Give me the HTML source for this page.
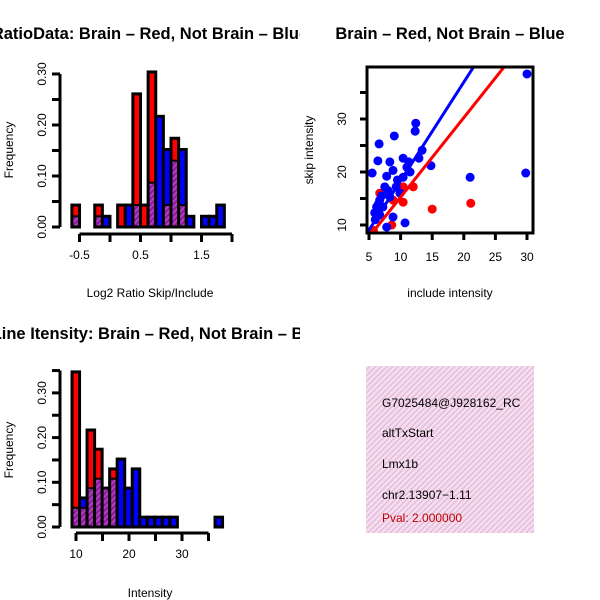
<!DOCTYPE html>
<html><head><meta charset="utf-8"><style>
html,body{margin:0;padding:0;background:#fff;}
svg{display:block;font-family:"Liberation Sans",sans-serif;}
</style></head><body>
<svg id="c" width="600" height="600" viewBox="0 0 600 600" xmlns="http://www.w3.org/2000/svg">
<defs>
<pattern id="purp" patternUnits="userSpaceOnUse" width="4" height="4" patternTransform="rotate(45)">
<rect width="4" height="4" fill="#8a1a9a"/><rect width="2" height="4" fill="#b040c0"/>
</pattern>
<pattern id="pink" patternUnits="userSpaceOnUse" width="4" height="4" patternTransform="rotate(45)">
<rect width="4" height="4" fill="#f8dcf2"/><rect width="1.5" height="4" fill="#e0c0d8"/>
</pattern>
<clipPath id="clipBox"><rect x="366" y="366" width="168" height="167"/></clipPath>
<clipPath id="clipScatter"><rect x="367" y="67" width="166" height="166"/></clipPath>
<clipPath id="clipLeft"><rect x="0" y="0" width="300" height="600"/></clipPath>
</defs>
<g id="p1"></g>
<g id="p2"></g>
<g id="p3"></g>
<g id="titlesLeft" clip-path="url(#clipLeft)"></g>
<g id="legend">
<rect x="366" y="366" width="168" height="167" fill="url(#pink)"/>
<g clip-path="url(#clipBox)" font-size="12">
<text x="382" y="407">G7025484@J928162_RC</text>
<text x="382" y="437">altTxStart</text>
<text x="382" y="468">Lmx1b</text>
<text x="382" y="499">chr2.13907−1.11</text>
<text x="382" y="522" fill="#c00000">Pval: 2.000000</text>
</g>
</g>
</svg>
<script>
// ---- Data ----
const ratioBinStart = -0.625;
const ratioBinWidth = 0.125;
const ratioRed  = [0.043,0,0,0.043,0,0,0.043,0,0.261,0.043,0.304,0,0.043,0.174,0.043,0,0,0,0,0];
const ratioBlue = [0.021,0,0,0.021,0.021,0,0,0.043,0.043,0,0.087,0.217,0.152,0.13,0.152,0.021,0,0.021,0.021,0.043];
const ratioXTicks = [-0.5,0,0.5,1,1.5,2];
const ratioXLabels = ["-0.5","","0.5","","1.5",""];
const ratioYTicks = [0,0.05,0.1,0.15,0.2,0.25,0.3];
const ratioYLabels = ["0.00","","0.10","","0.20","","0.30"];
const intBinStart = 9.25;
const intBinWidth = 1.42;
const intRed  = [0.347,0.043,0.217,0.174,0.087,0.13,0,0,0,0,0,0,0,0,0,0,0,0,0,0];
const intBlue = [0.043,0.065,0.087,0.108,0.087,0.108,0.152,0.087,0.13,0.022,0.022,0.022,0.022,0.022,0,0,0,0,0,0.022];
const intXTicks = [10,15,20,25,30,35];
const intXLabels = ["10","","20","","30",""];
const intYTicks = [0,0.05,0.1,0.15,0.2,0.25,0.3,0.35];
const intYLabels = ["0.00","","0.10","","0.20","","0.30",""];
const blueX = [30,29.8,21,12.4,12.3,9,6.6,6.4,5.5,8.3,10.4,11.3,12.9,13.4,14.8,11,8.8,7.8,10.4,7.5,9.3,6.7,6.2,5.9,7.2,8.3,9.9,10.7,7.8,6.7,8.8,6,7,9.5,11.5,8,6.5];
const blueY = [38.5,19.8,19,29.2,27.7,26.8,25.3,22.1,19.8,21.9,22.6,21.9,22.6,24.1,21.2,20.9,20.3,19.2,19,17.2,17.2,14.7,13.4,12.3,13.4,15.3,16,10.4,9.6,11.9,11.5,11,15.5,18.5,20,16.5,14];
const redX = [21.1,15,12,10.4,10.4,6.7,8.6,5.7,8.8];
const redY = [14.1,13,17.2,14.3,17.2,16,10,9,14.7];
const blueFit = {a:-0.25, b:1.86};
const redFit  = {a:0.25,  b:1.5};
const scatXTicks = [5,10,15,20,25,30];
const scatYTicks = [10,15,20,25,30,35];
const scatYLabels = ["10","","20","","30",""];

const NS = "http://www.w3.org/2000/svg";
function mk(parent, tag, attrs, text){
  const e = document.createElementNS(NS, tag);
  for (const k in attrs) e.setAttribute(k, attrs[k]);
  if (text !== undefined) e.textContent = text;
  parent.appendChild(e);
  return e;
}

function histogram(g, o){
  const xs = v => o.x0 + (v - o.xv0) * o.kx;
  const ys = v => o.y0 - v * o.ky;
  const w = o.binW * o.kx;
  for (let i = 0; i < o.red.length; i++){
    const r = o.red[i], b = o.blue[i];
    if (r <= 0 && b <= 0) continue;
    const x = xs(o.binStart + i * o.binW);
    const hi = Math.max(r, b), lo = Math.min(r, b);
    const bar = mk(g, "rect", {x:x, y:ys(hi), width:w, height:ys(0)-ys(hi), fill: r >= b ? "#ff0000" : "#0000ff"});
    
    
    if (lo > 0){
      const ov = mk(g, "rect", {x:x, y:ys(lo), width:w, height:ys(0)-ys(lo), fill:"url(#purp)"});
      
      
    }
    const ol = mk(g, "rect", {x:x, y:ys(hi), width:w, height:ys(0)-ys(hi), fill:"none", stroke:"#000", "stroke-width":3});
    
    
    if (lo > 0 && r !== b){
      mk(g, "line", {x1:x, x2:x+w, y1:ys(lo), y2:ys(lo), stroke:"#000", "stroke-width":2});
    }
  }
  const ya = mk(g, "g", {});
  
  
  const yt = o.yTicks;
  mk(ya, "line", {x1:o.axX, x2:o.axX, y1:ys(yt[0]), y2:ys(yt[yt.length-1]), stroke:"#000", "stroke-width":3});
  yt.forEach((t, i) => {
    mk(ya, "line", {x1:o.axX-8, x2:o.axX, y1:ys(t), y2:ys(t), stroke:"#000", "stroke-width":3});
    if (o.yLabels[i]){
      const tl = mk(ya, "text", {x:0, y:0, "font-size":12, "text-anchor":"middle", transform:`translate(${o.axX-14},${ys(t)}) rotate(-90)`}, o.yLabels[i]);
      
      
    }
  });
  const xa = mk(g, "g", {});
  
  
  const xt = o.xTicks;
  mk(xa, "line", {x1:xs(xt[0]), x2:xs(xt[xt.length-1]), y1:o.axY, y2:o.axY, stroke:"#000", "stroke-width":3});
  xt.forEach((t, i) => {
    mk(xa, "line", {x1:xs(t), x2:xs(t), y1:o.axY, y2:o.axY+8, stroke:"#000", "stroke-width":3});
    if (o.xLabels[i]){
      const tl = mk(xa, "text", {x:xs(t), y:o.axY+25, "font-size":12, "text-anchor":"middle"}, o.xLabels[i]);
      
      
    }
  });
}

const p1 = document.getElementById("p1");
histogram(p1, {red:ratioRed, blue:ratioBlue, binStart:ratioBinStart, binW:ratioBinWidth,
  x0:79.5, xv0:-0.5, kx:61, y0:227, ky:510, axX:60, axY:234,
  xTicks:ratioXTicks, xLabels:ratioXLabels, yTicks:ratioYTicks, yLabels:ratioYLabels});
const p3 = document.getElementById("p3");
histogram(p3, {red:intRed, blue:intBlue, binStart:intBinStart, binW:intBinWidth,
  x0:76, xv0:10, kx:5.3, y0:527, ky:447, axX:60, axY:533,
  xTicks:intXTicks, xLabels:intXLabels, yTicks:intYTicks, yLabels:intYLabels});

const p2 = document.getElementById("p2");
const sx = v => 369 + (v - 5) * 6.32;
const sy = v => 225 - (v - 10) * 5.3;
const cg = mk(p2, "g", {"clip-path":"url(#clipScatter)"});
for (let i = 0; i < redX.length; i++){
  const c = mk(cg, "circle", {cx:sx(redX[i]), cy:sy(redY[i]), r:4.5, fill:"#ff0000"});
  
  
}
for (let i = 0; i < blueX.length; i++){
  const c = mk(cg, "circle", {cx:sx(blueX[i]), cy:sy(blueY[i]), r:4.5, fill:"#0000ff"});
  
  
}
const bl = mk(cg, "line", {x1:sx(3), y1:sy(blueFit.a+blueFit.b*3), x2:sx(32), y2:sy(blueFit.a+blueFit.b*32), stroke:"#0000ff", "stroke-width":3});


const rl = mk(cg, "line", {x1:sx(3), y1:sy(redFit.a+redFit.b*3), x2:sx(32), y2:sy(redFit.a+redFit.b*32), stroke:"#ff0000", "stroke-width":3});


const box = mk(p2, "rect", {x:367, y:67, width:166, height:166, fill:"none", stroke:"#000", "stroke-width":3});


scatXTicks.forEach(t => {
  mk(p2, "line", {x1:sx(t), x2:sx(t), y1:233, y2:240, stroke:"#000", "stroke-width":3});
  const tl = mk(p2, "text", {x:sx(t), y:261, "font-size":12, "text-anchor":"middle"}, String(t));
  
  
});
scatYTicks.forEach((t, i) => {
  mk(p2, "line", {x1:360, x2:367, y1:sy(t), y2:sy(t), stroke:"#000", "stroke-width":3});
  if (scatYLabels[i]){
    const tl = mk(p2, "text", {x:0, y:0, "font-size":12, "text-anchor":"middle", transform:`translate(346,${sy(t)}) rotate(-90)`}, scatYLabels[i]);
    
    
  }
});

const svg = document.getElementById("c");
const tl = document.getElementById("titlesLeft");
function label(txt, x, y, opts, name, parent){
  const a = Object.assign({x:x, y:y, "text-anchor":"middle", "font-size":12}, opts||{});
  const t = mk(parent || svg, "text", a, txt);
  
  
}
label("RatioData: Brain – Red, Not Brain – Blue", 150, 39, {"font-size":16.5, "font-weight":"bold"}, "ratio-title", tl);
label("Brain – Red, Not Brain – Blue", 450, 39, {"font-size":16.5, "font-weight":"bold"}, "scatter-title");
label("Exon Line Itensity: Brain – Red, Not Brain – Blue", 137, 339, {"font-size":16.5, "font-weight":"bold"}, "intensity-title", tl);
label("Log2 Ratio Skip/Include", 150, 297, {}, "ratio-x-title");
label("include intensity", 450, 297, {}, "scatter-x-title");
label("Intensity", 150, 597, {}, "intensity-x-title");
label("Frequency", 0, 0, {transform:"translate(13,150) rotate(-90)"}, "ratio-y-title");
label("skip intensity", 0, 0, {transform:"translate(313,150) rotate(-90)"}, "scatter-y-title");
label("Frequency", 0, 0, {transform:"translate(13,450) rotate(-90)"}, "intensity-y-title");
</script>
</body></html>
